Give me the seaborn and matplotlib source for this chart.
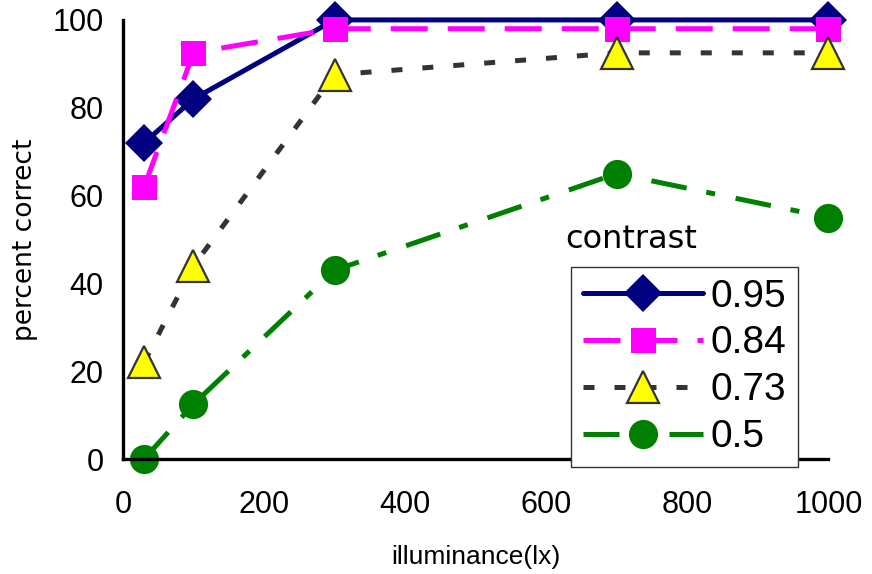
import matplotlib
matplotlib.use("Agg")
import matplotlib.pyplot as plt
import seaborn as sns
import pandas as pd

# illuminance levels (lx) and percent correct per contrast level
illuminance = [30, 100, 300, 700, 1000]
contrast_labels = ["0.95", "0.84", "0.73", "0.5"]
pc_095 = [72, 82, 100, 100, 100]
pc_084 = [62, 92.5, 98, 98, 98]
pc_073 = [22, 44, 87.5, 92.5, 92.5]
pc_050 = [0, 12.5, 43, 65, 55]
x_ticks = [0, 200, 400, 600, 800, 1000]
y_ticks = [0, 20, 40, 60, 80, 100]

sns.set_style("white")
plt.rcParams["font.family"] = ["Liberation Sans", "DejaVu Sans"]
plt.rcParams.update({"text.color": "black", "axes.labelcolor": "black",
                     "xtick.color": "black", "ytick.color": "black"})

fig = plt.figure(figsize=(8.72, 5.74), dpi=100)
ax = fig.add_axes([0.141, 0.2003, 0.809, 0.765])

styles = [
    dict(values=pc_095, color="#000080", marker="D", ms=19, mfc="#000080", mec="#000080", mew=0, dashes=None),
    dict(values=pc_084, color="#FF00FF", marker="s", ms=18, mfc="#FF00FF", mec="#FF00FF", mew=0, dashes=(7.4, 4)),
    dict(values=pc_073, color="#333333", marker="^", ms=23, mfc="#FFFF00", mec="#333333", mew=1.6, dashes=(2.2, 4)),
    dict(values=pc_050, color="#008000", marker="o", ms=21, mfc="#008000", mec="#008000", mew=0, dashes=(7.2, 4, 1.8, 4.2)),
]

for lab, st in zip(contrast_labels, styles):
    df = pd.DataFrame({"illuminance": illuminance, "pc": st["values"]})
    kws = dict(linestyle="-") if st["dashes"] is None else dict(dashes=st["dashes"])
    sns.lineplot(data=df, x="illuminance", y="pc", ax=ax, color=st["color"],
                 linewidth=3.6, marker=st["marker"], markersize=st["ms"],
                 markerfacecolor=st["mfc"], markeredgecolor=st["mec"],
                 markeredgewidth=st["mew"], label=lab, clip_on=False, **kws)

ax.set_xlim(0, 1000)
ax.set_ylim(0, 100)
ax.set_xticks(x_ticks)
ax.set_yticks(y_ticks)
for s in ["top", "right"]:
    ax.spines[s].set_visible(False)
for s in ["left", "bottom"]:
    ax.spines[s].set_linewidth(2.4)
    ax.spines[s].set_color("black")
ax.tick_params(axis="both", direction="in", length=7, width=2.4, labelsize=22, color="black")
ax.tick_params(axis="x", pad=22)
ax.tick_params(axis="y", pad=14)

ax.set_xlabel("illuminance(lx)", fontsize=19, labelpad=18)
ax.set_ylabel("percent correct", fontsize=19, labelpad=10, family=["DejaVu Sans"])

leg = ax.legend(loc="lower left", bbox_to_anchor=(0.635, -0.018), fontsize=28,
                numpoints=1, handlelength=3.1, handletextpad=0.2,
                labelspacing=0.28, borderpad=0.3, borderaxespad=0,
                fancybox=False, framealpha=1, edgecolor="#333333")
leg.get_frame().set_linewidth(1.0)
leg.set_zorder(5)

ax.text(0.627, 0.50, "contrast", transform=ax.transAxes, fontsize=23,
        family=["DejaVu Sans"], ha="left", va="center")

fig.savefig("out.png", dpi=100)
